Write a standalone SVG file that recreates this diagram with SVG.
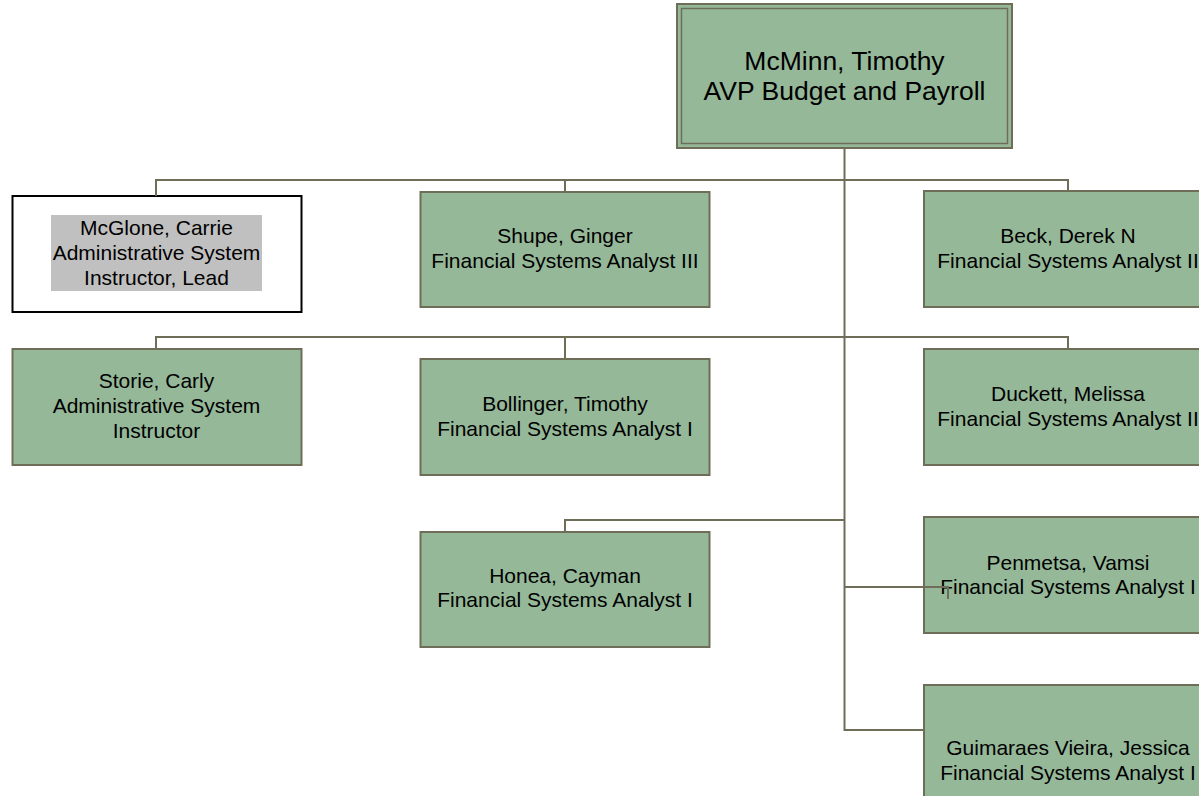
<svg xmlns="http://www.w3.org/2000/svg" width="1199" height="796" viewBox="0 0 1199 796">
<style>
.box{fill:#95b899;stroke:#6e6e58;stroke-width:2}
.inner{fill:none;stroke:#6e6e58;stroke-width:1.5}
.wbox{fill:#ffffff;stroke:#000000;stroke-width:2}
.conn{fill:none;stroke:#6e6e58;stroke-width:2}
text{font-family:"Liberation Sans",Arial,sans-serif;font-size:21px;fill:#000;text-anchor:middle}
.big{font-size:26.5px}
</style>
<rect width="1199" height="796" fill="#ffffff"/>
<g id="mcminn">
<rect class="box" x="677" y="4" width="335" height="144"/>
<rect class="inner" x="681.5" y="8.5" width="326" height="135"/>
<text class="big" x="844.5" y="70">McMinn, Timothy</text>
<text class="big" x="844.5" y="100">AVP Budget and Payroll</text>
</g>
<g id="mcglone">
<rect class="wbox" x="12.5" y="196" width="289" height="116"/>
<rect x="51" y="215" width="211" height="76" fill="#c0c0c0"/>
<text x="156.5" y="235">McGlone, Carrie</text>
<text x="156.5" y="260">Administrative System</text>
<text x="156.5" y="285">Instructor, Lead</text>
</g>
<g id="shupe">
<rect class="box" x="420.5" y="192" width="289" height="115"/>
<text x="565" y="243">Shupe, Ginger</text>
<text x="565" y="268">Financial Systems Analyst III</text>
</g>
<g id="beck">
<rect class="box" x="924" y="191" width="289" height="116"/>
<text x="1068" y="243">Beck, Derek N</text>
<text x="1068" y="268">Financial Systems Analyst II</text>
</g>
<g id="storie">
<rect class="box" x="12.5" y="349" width="289" height="116"/>
<text x="156.5" y="388">Storie, Carly</text>
<text x="156.5" y="413">Administrative System</text>
<text x="156.5" y="438">Instructor</text>
</g>
<g id="bollinger">
<rect class="box" x="420.5" y="359" width="289" height="116"/>
<text x="565" y="411">Bollinger, Timothy</text>
<text x="565" y="436">Financial Systems Analyst I</text>
</g>
<g id="duckett">
<rect class="box" x="924" y="349" width="289" height="116"/>
<text x="1068" y="401">Duckett, Melissa</text>
<text x="1068" y="426">Financial Systems Analyst II</text>
</g>
<g id="honea">
<rect class="box" x="420.5" y="532" width="289" height="115"/>
<text x="565" y="583">Honea, Cayman</text>
<text x="565" y="607">Financial Systems Analyst I</text>
</g>
<g id="penmetsa">
<rect class="box" x="924" y="517" width="289" height="116"/>
<text x="1068" y="570">Penmetsa, Vamsi</text>
<text x="1068" y="594">Financial Systems Analyst I</text>
</g>
<g id="guimaraes">
<rect class="box" x="924" y="685" width="289" height="130"/>
<text x="1068" y="755">Guimaraes Vieira, Jessica</text>
<text x="1068" y="780">Financial Systems Analyst I</text>
</g>
<g id="connectors">
<path class="conn" d="M844.5,148 V730 H924"/>
<path class="conn" d="M156,196 V180 H1068 V191"/>
<path class="conn" d="M565,180 V192"/>
<path class="conn" d="M156,349 V337 H1068 V349"/>
<path class="conn" d="M565,337 V359"/>
<path class="conn" d="M565,532 V520 H844.5"/>
<path class="conn" d="M844.5,587 H948 V599"/>
</g>
</svg>
